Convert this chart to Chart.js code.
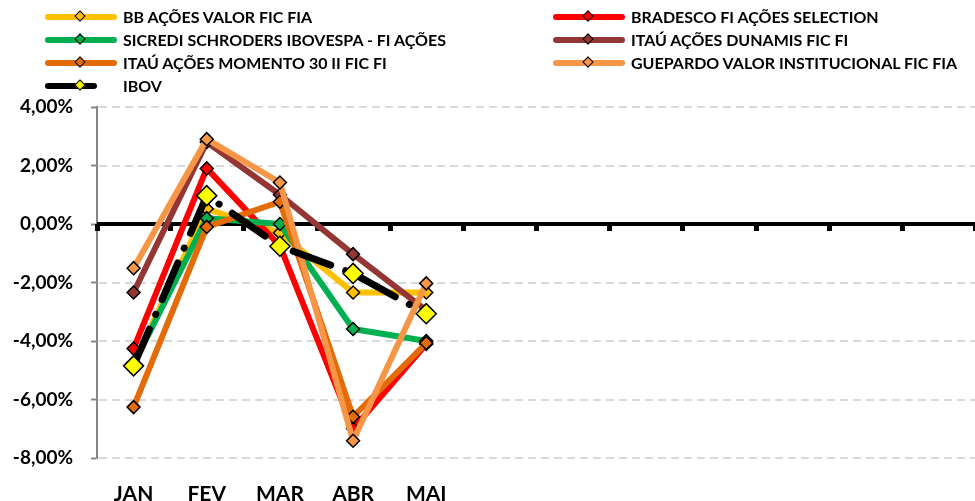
<!DOCTYPE html>
<html>
<head>
<meta charset="utf-8">
<script src="https://cdn.jsdelivr.net/npm/chart.js@4"></script>
<style>
  body { margin: 0; background: #fff; }
  #wrap { position: relative; width: 975px; height: 501px; }
  #legend { position: absolute; left: 0; top: 0; width: 975px; height: 100px; font-family: Lato, sans-serif; font-weight: 700; font-size: 16px; color: #000; }
  .item { position: absolute; height: 20px; line-height: 20px; white-space: nowrap; }
  .swatch { position: absolute; top: 7px; height: 6px; border-radius: 3px; }
  .mark { position: absolute; top: 5px; width: 8px; height: 8px; transform: rotate(45deg); border: 1.5px solid #000; box-sizing: border-box; }
  .txt { position: absolute; top: 0; }
</style>
</head>
<body>
<div id="wrap">
  <canvas id="myChart" width="975" height="501"></canvas>
  <div id="legend"></div>
</div>
<script>
// months - only first five have data
const months = ['JAN', 'FEV', 'MAR', 'ABR', 'MAI', '', '', '', '', '', '', ''];
const yTicks = [4, 2, 0, -2, -4, -6, -8];

const bbAcoes = [-4.75, 0.52, -0.3, -2.34, -2.34];
const bradesco = [-4.26, 1.9, -0.75, -7.0, -4.1];
const sicredi = [-4.8, 0.2, 0.0, -3.59, -4.0];
const dunamis = [-2.34, 2.8, 1.0, -1.03, -2.95];
const momento = [-6.26, -0.1, 0.76, -6.59, -4.07];
const guepardo = [-1.51, 2.9, 1.42, -7.41, -2.03];
const ibov = [-4.85, 0.97, -0.76, -1.69, -3.07];

const seriesNames = ['BB AÇÕES VALOR FIC FIA', 'BRADESCO FI AÇÕES SELECTION', 'SICREDI SCHRODERS IBOVESPA - FI AÇÕES',
  'ITAÚ AÇÕES DUNAMIS FIC FI', 'ITAÚ AÇÕES MOMENTO 30 II FIC FI', 'GUEPARDO VALOR INSTITUCIONAL FIC FIA', 'IBOV'];
const seriesData = [bbAcoes, bradesco, sicredi, dunamis, momento, guepardo, ibov];
const lineColors = ['#FFC000', '#FF0000', '#00B050', '#943634', '#E36C09', '#F79646', '#000000'];
const markColors = ['#FFC000', '#FF0000', '#00B050', '#943634', '#E36C09', '#F79646', '#FFFF00'];

// legend in two columns like the excel one
const legendDiv = document.getElementById('legend');
const legendPos = [[45, 7], [553, 7], [45, 30], [553, 30], [45, 53], [553, 53], [45, 76]];
seriesNames.forEach((name, i) => {
  const it = document.createElement('div');
  it.className = 'item';
  it.style.left = legendPos[i][0] + 'px';
  it.style.top = legendPos[i][1] + 'px';
  const w = i === 6 ? 52 : 72;
  it.innerHTML = '<div class="swatch" style="left:0;width:' + w + 'px;background:' + lineColors[i] + '"></div>' +
    '<div class="mark" style="left:31px;background:' + markColors[i] + '"></div>' +
    '<div class="txt" style="left:78px">' + name + '</div>';
  legendDiv.appendChild(it);
});

// dashed grid + black zero line with small ticks between the months
const zeroLine = {
  id: 'zeroLine',
  beforeDatasetsDraw(chart) {
    const ctx = chart.ctx;
    const x = chart.scales.x;
    const y = chart.scales.y;
    const y0 = y.getPixelForValue(0);
    const area = chart.chartArea;
    ctx.save();
    ctx.strokeStyle = '#D9D9D9';
    ctx.lineWidth = 2;
    ctx.setLineDash([8, 5]);
    yTicks.forEach(v => {
      if (v === 0) return;
      const py = Math.round(y.getPixelForValue(v));
      ctx.beginPath();
      ctx.moveTo(area.left + 2, py);
      ctx.lineTo(area.right, py);
      ctx.stroke();
    });
    ctx.setLineDash([]);
    ctx.strokeStyle = '#000';
    ctx.lineWidth = 4;
    ctx.beginPath();
    ctx.moveTo(area.left, y0);
    ctx.lineTo(area.right, y0);
    ctx.stroke();
    const step = x.getPixelForValue(1) - x.getPixelForValue(0);
    ctx.fillStyle = '#000';
    for (let k = 0; k <= months.length; k++) {
      const px = x.getPixelForValue(0) - step / 2 + k * step;
      ctx.fillRect(Math.round(px) - 2, y0, 5, 7);
    }
    ctx.restore();
  }
};

const ctx1 = document.getElementById('myChart').getContext('2d');
const myChart = new Chart(ctx1, {
  type: 'line',
  data: {
    labels: months,
    datasets: seriesData.map((d, i) => ({
      label: seriesNames[i],
      data: d,
      borderColor: lineColors[i],
      backgroundColor: markColors[i],
      borderWidth: i === 6 ? 7 : 6,
      borderDash: i === 6 ? [40, 16, 0.1, 16] : [],
      borderCapStyle: i === 6 ? 'round' : 'butt',
      borderJoinStyle: 'round',
      pointStyle: 'rectRot',
      pointRadius: i === 6 ? 10 : 6.5,
      pointBorderColor: '#000',
      pointBorderWidth: 1.5,
      pointBackgroundColor: markColors[i],
      tension: 0,
      fill: false,
      order: 7 - i
    }))
  },
  plugins: [zeroLine],
  options: {
    responsive: false,
    animation: false,
    layout: { autoPadding: false, padding: { top: 107, right: 0, left: 0, bottom: 0 } },
    plugins: { legend: { display: false }, tooltip: { enabled: false } },
    scales: {
      x: {
        offset: true,
        grid: { display: false, drawTicks: false },
        border: { display: false },
        ticks: {
          padding: 24, maxRotation: 0, autoSkip: false, color: '#000',
          font: { family: 'Lato', weight: 'bold', size: 21 }
        },
        afterFit(scale) { scale.height = 43; }
      },
      y: {
        min: -8,
        max: 4,
        afterBuildTicks(scale) { scale.ticks = yTicks.map(v => ({ value: v })); },
        grid: { drawOnChartArea: false, tickColor: '#868686', tickLength: 6, tickWidth: 2 },
        border: { display: true, color: '#868686', width: 2 },
        ticks: {
          padding: 18, color: '#000',
          font: { family: 'Lato', weight: 'bold', size: 19 },
          callback: v => v.toFixed(2).replace('.', ',') + '%'
        },
        afterFit(scale) { scale.width = 97; }
      }
    }
  }
});
</script>
</body>
</html>
